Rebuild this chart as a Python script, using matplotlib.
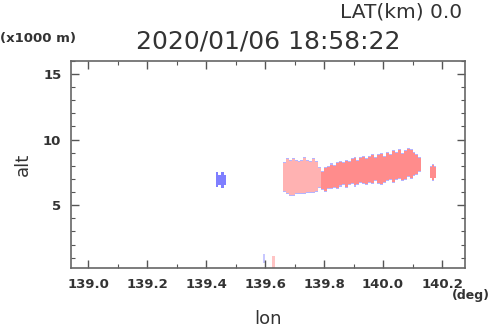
import numpy as np
import matplotlib
matplotlib.use("Agg")
import matplotlib.pyplot as plt

# column data: lon centre, lower / upper altitude (x1000 m)
lon_a = [139.665, 139.675, 139.685, 139.695, 139.705, 139.715, 139.725,
         139.735, 139.745, 139.755, 139.765, 139.775, 139.785]
low_a = [6.1, 5.9, 5.8, 5.8, 5.9, 5.9, 5.9, 5.9, 6.0, 6.0, 6.0, 6.1, 6.4]
top_a = [8.2, 8.5, 8.4, 8.5, 8.4, 8.3, 8.4, 8.6, 8.4, 8.3, 8.5, 8.3, 7.8]

lon_b = [139.795, 139.805, 139.815, 139.825, 139.835, 139.845, 139.855,
         139.865, 139.875, 139.885, 139.895, 139.905, 139.915, 139.925,
         139.935, 139.945, 139.955, 139.965, 139.975, 139.985, 139.995,
         140.005, 140.015, 140.025, 140.035, 140.045, 140.055, 140.065,
         140.075, 140.085, 140.095, 140.105, 140.115, 140.125]
top_b = [7.5, 7.8, 7.9, 8.1, 8.0, 8.2, 8.3, 8.2, 8.4, 8.3, 8.5, 8.6, 8.4, 8.6,
         8.7, 8.5, 8.7, 8.8, 8.6, 8.8, 8.9, 8.7, 9.0, 8.8, 9.1, 9.0, 9.2, 8.9,
         9.1, 9.3, 9.2, 9.0, 8.8, 8.6]
low_b = [6.2, 6.1, 6.3, 6.3, 6.4, 6.3, 6.5, 6.6, 6.4, 6.6, 6.7, 6.5, 6.6, 6.8,
         6.7, 6.6, 6.8, 6.7, 6.9, 6.7, 6.6, 6.8, 6.9, 7.0, 6.8, 7.0, 7.1, 6.9,
         7.0, 7.2, 7.1, 7.3, 7.4, 7.6]

lon_c = [140.163, 140.170, 140.177]
low_c = [7.1, 6.9, 7.1]
top_c = [7.9, 8.1, 7.9]

lon_blue = [139.437, 139.447, 139.457, 139.465]
low_blue = [6.4, 6.5, 6.3, 6.5]
top_blue = [7.5, 7.3, 7.5, 7.3]

lon_low = [139.597, 139.627]
low_low = [0.6, 0.2]
top_low = [1.3, 1.15]

pink = "#ff8c8c"
light_pink = "#ffb2b2"
edge = "#b4b4ff"
blue = "#7f7fff"
txt = "#333333"

fig = plt.figure(figsize=(4.9, 3.31), dpi=100)
ax = fig.add_axes([0.145, 0.190, 0.804, 0.626])

def blob(lon, low, top, color, pad=0.08):
    lon = np.array(lon); low = np.array(low); top = np.array(top)
    x = np.concatenate([[lon[0] - 0.004], lon, [lon[-1] + 0.004]])
    lo = np.concatenate([[low[0]], low, [low[-1]]])
    hi = np.concatenate([[top[0]], top, [top[-1]]])
    ax.fill_between(x, lo - pad, hi + pad, step="mid", color=edge, lw=0)
    ax.fill_between(x, lo, hi, step="mid", color=color, lw=0)

blob(lon_a, low_a, top_a, light_pink)
blob(lon_b, low_b, top_b, pink)
blob(lon_c, low_c, top_c, pink, pad=0.06)
blob(lon_blue, low_blue, top_blue, blue, pad=0.0)

# faint marks near the ground
ax.bar(lon_low[0], top_low[0] - low_low[0], bottom=low_low[0], width=0.008,
       color="#c8c8ff", lw=0)
ax.bar(lon_low[1], top_low[1] - low_low[1], bottom=low_low[1], width=0.01,
       color="#ffc4c4", lw=0)

ax.set_xlim(138.942, 140.278)
ax.set_ylim(0.2, 16.0)
ax.set_xticks(np.arange(139.0, 140.21, 0.2))
ax.set_xticks(np.arange(139.1, 140.21, 0.2), minor=True)
ax.set_yticks([5, 10, 15])
ax.set_yticks([1, 2, 3, 4, 6, 7, 8, 9, 11, 12, 13, 14, 16], minor=True)
ax.set_xticklabels(["%.1f" % v for v in np.arange(139.0, 140.21, 0.2)])
ax.tick_params(which="both", direction="in", top=True, right=True,
               color="#555555", labelcolor=txt)
ax.tick_params(which="major", length=6, width=1, labelsize=9.5, pad=7)
ax.tick_params(which="minor", length=3, width=0.8)
for lab in ax.get_xticklabels() + ax.get_yticklabels():
    lab.set_fontweight("bold")
for s in ax.spines.values():
    s.set_color("#666666")
    s.set_linewidth(1.2)

ax.set_xlabel("lon", fontsize=13, color=txt, labelpad=14)
ax.set_ylabel("alt", fontsize=13, color=txt, labelpad=8)

fig.text(0.943, 0.965, "LAT(km) 0.0", fontsize=14.5, color=txt, ha="right", va="center")
fig.text(0.548, 0.876, "2020/01/06 18:58:22", fontsize=18, color=txt, ha="center", va="center")
fig.text(0.0, 0.883, "(x1000 m)", fontsize=9.5, fontweight="bold", color=txt, ha="left", va="center")
fig.text(0.999, 0.106, "(deg)", fontsize=9, fontweight="bold", color=txt, ha="right", va="center")

fig.savefig("out.png", dpi=100)
